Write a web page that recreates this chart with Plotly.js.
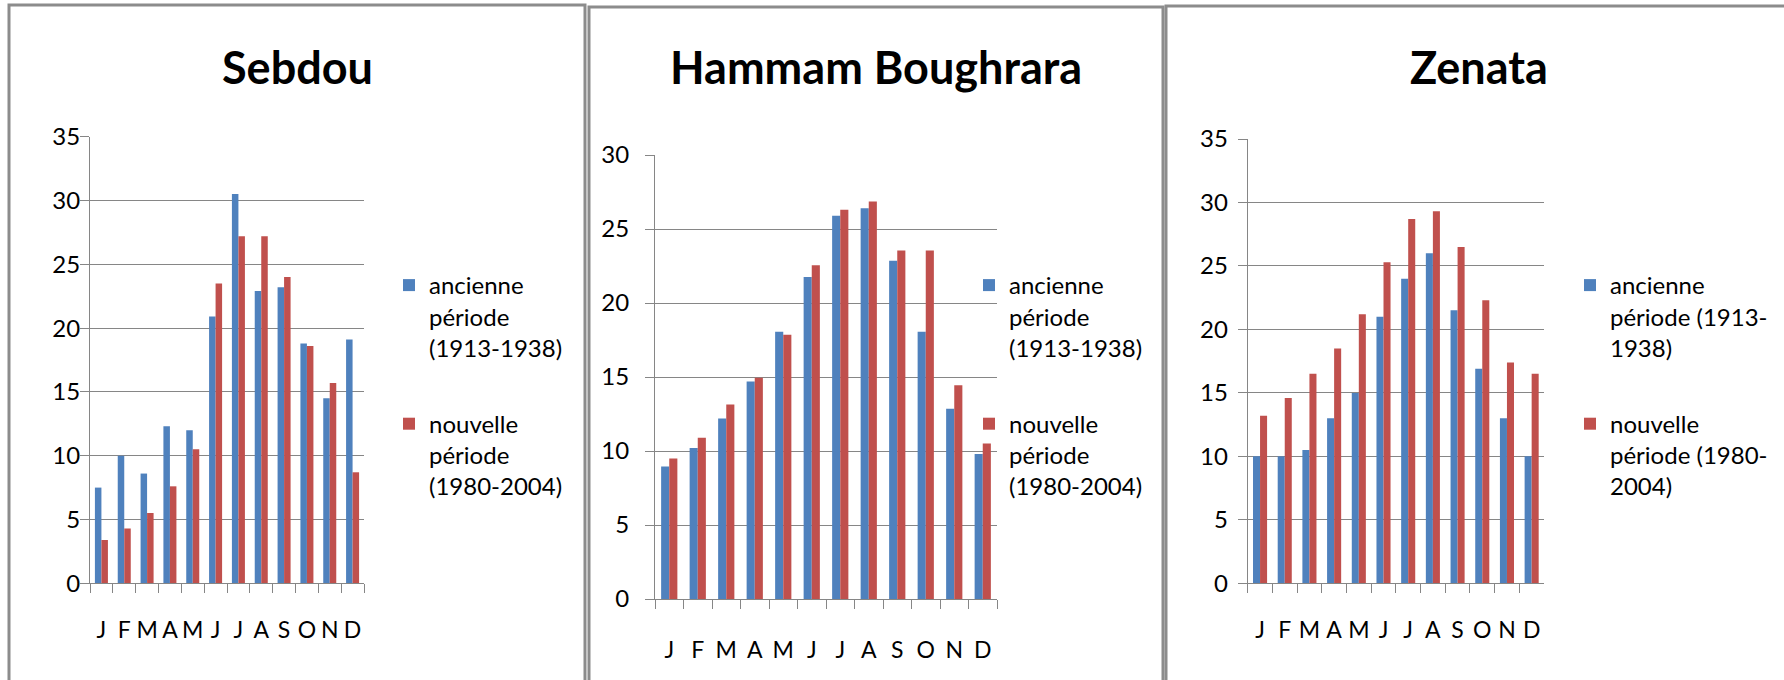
<!DOCTYPE html>
<html>
<head>
<meta charset="utf-8">
<script src="https://cdn.plot.ly/plotly-3.0.1.min.js"></script>
<style>
html,body{margin:0;padding:0;background:#fff;}
#chart{width:1784px;height:680px;}
</style>
</head>
<body>
<div id="chart"></div>
<script>
// ---- data ----
const monthKeys = ['janv','fevr','mars','avr','mai','juin','juil','aout','sept','oct','nov','dec'];
const monthLetters = ['J','F','M','A','M','J','J','A','S','O','N','D'];

const stations = ['Sebdou', 'Hammam Boughrara', 'Zenata'];

const sebdouAncienne = [7.5, 10.0, 8.6, 12.3, 12.0, 20.9, 30.5, 22.9, 23.2, 18.8, 14.5, 19.1];
const sebdouNouvelle = [3.4, 4.3, 5.5, 7.6, 10.5, 23.5, 27.2, 27.2, 24.0, 18.6, 15.7, 8.7];

const hammamAncienne = [8.95, 10.2, 12.2, 14.7, 18.05, 21.75, 25.9, 26.4, 22.85, 18.05, 12.85, 9.8];
const hammamNouvelle = [9.5, 10.9, 13.15, 14.95, 17.85, 22.55, 26.3, 26.85, 23.55, 23.55, 14.45, 10.5];

const zenataAncienne = [10.0, 10.0, 10.5, 13.0, 15.0, 21.0, 24.0, 26.0, 21.5, 16.9, 13.0, 10.0];
const zenataNouvelle = [13.2, 14.6, 16.5, 18.5, 21.2, 25.3, 28.7, 29.3, 26.5, 22.3, 17.4, 16.5];

const nameAncienne = 'ancienne<br>période<br>(1913-1938)';
const nameNouvelle = 'nouvelle<br>période<br>(1980-2004)';
const nameAncienneZ = 'ancienne<br>période (1913-<br>1938)';
const nameNouvelleZ = 'nouvelle<br>période (1980-<br>2004)';

// ---- layout helpers ----
const W = 1784, H = 680;
const px = x => x / W;
const py = y => 1 - y / H;
const BLUE = '#4F81BD', RED = '#C0504D';
const GRID = '#868686';
const FONT = 'Lato, "Open Sans", sans-serif';

function bar(x, y, name, color, ax, leg, grp) {
  return {
    type: 'bar', x: x, y: y, name: name,
    marker: {color: color},
    xaxis: 'x' + ax, yaxis: 'y' + ax,
    legend: leg, legendgroup: grp,
    hoverinfo: 'y'
  };
}

const data = [
  bar(monthKeys, sebdouAncienne, nameAncienne, BLUE, '', 'legend', 'a1'),
  bar(monthKeys, sebdouNouvelle, nameNouvelle, RED, '', 'legend', 'n1'),
  bar(monthKeys, hammamAncienne, nameAncienne, BLUE, '2', 'legend2', 'a2'),
  bar(monthKeys, hammamNouvelle, nameNouvelle, RED, '2', 'legend2', 'n2'),
  bar(monthKeys, zenataAncienne, nameAncienneZ, BLUE, '3', 'legend3', 'a3'),
  bar(monthKeys, zenataNouvelle, nameNouvelleZ, RED, '3', 'legend3', 'n3')
];

function xax(x0, x1, anchor, standoff) {
  return {
    domain: [px(x0), px(x1)], anchor: anchor, type: 'category',
    tickmode: 'array', tickvals: monthKeys, ticktext: monthLetters,
    tickson: 'boundaries', ticks: 'outside', ticklen: 9, tickcolor: GRID, tickwidth: 1,
    tickangle: 0,
    showline: true, linecolor: GRID, linewidth: 1,
    showgrid: false, zeroline: false,
    ticklabelstandoff: standoff,
    tickfont: {family: FONT, size: 23, color: '#000'},
    fixedrange: true
  };
}
function yax(yBottom, yTop, max, anchor, standoff) {
  return {
    domain: [py(yBottom), py(yTop)], anchor: anchor,
    range: [0, max], dtick: 5, tick0: 0,
    ticks: 'outside', ticklen: 9, tickcolor: GRID, tickwidth: 1,
    showline: true, linecolor: GRID, linewidth: 1,
    showgrid: true, gridcolor: GRID, gridwidth: 1,
    zeroline: false,
    ticklabelstandoff: standoff,
    tickfont: {family: FONT, size: 24, color: '#000'},
    fixedrange: true
  };
}
function leg(xText, yTop) {
  return {
    x: px(xText - 40), y: py(yTop), xanchor: 'left', yanchor: 'top',
    xref: 'paper', yref: 'paper',
    font: {family: FONT, size: 24, color: '#000'},
    valign: 'top', traceorder: 'grouped', tracegroupgap: 42,
    bgcolor: 'rgba(0,0,0,0)', borderwidth: 0
  };
}
function title(text, xc) {
  return {
    text: '<b>' + text + '</b>', x: px(xc), y: py(67), xref: 'paper', yref: 'paper',
    xanchor: 'center', yanchor: 'middle', showarrow: false,
    font: {family: FONT, size: 45, color: '#000'}
  };
}
function frame(x0, x1, yTop) {
  return {
    type: 'rect', xref: 'paper', yref: 'paper',
    x0: px(x0), x1: px(x1), y0: py(yTop), y1: -0.2,
    line: {color: '#8c8c8c', width: 3}, fillcolor: 'rgba(0,0,0,0)'
  };
}

const layout = {
  width: W, height: H,
  margin: {l: 0, r: 0, t: 0, b: 0},
  paper_bgcolor: '#fff', plot_bgcolor: '#fff',
  bargap: 0.43, bargroupgap: 0, barmode: 'group',
  showlegend: true,
  font: {family: FONT, size: 24, color: '#000'},
  xaxis: xax(90, 364, 'y', 26),
  yaxis: yax(583.3, 136.7, 35, 'x', -5),
  xaxis2: xax(655, 997, 'y2', 30),
  yaxis2: yax(599, 155, 30, 'x2', 11),
  xaxis3: xax(1247.7, 1544, 'y3', 26),
  yaxis3: yax(583.3, 139, 35, 'x3', 5),
  legend: leg(429, 263),
  legend2: leg(1009, 263),
  legend3: leg(1610, 263),
  annotations: [
    title(stations[0], 297),
    title(stations[1], 876),
    title(stations[2], 1479)
  ],
  shapes: [
    frame(9, 585, 5),
    frame(589, 1163, 7),
    frame(1166, 1800, 6)
  ]
};

Plotly.newPlot('chart', data, layout, {displayModeBar: false, staticPlot: true});
</script>
</body>
</html>
